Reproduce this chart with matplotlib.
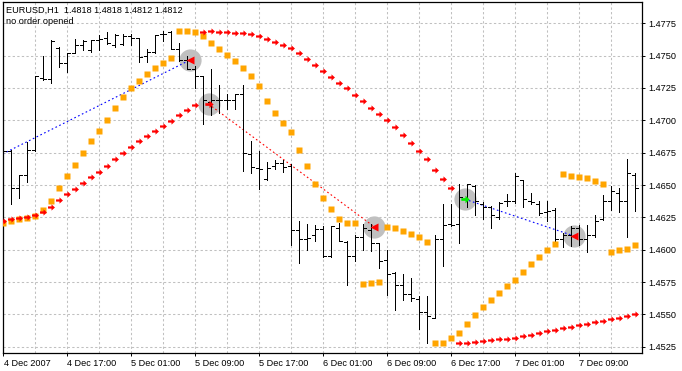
import matplotlib
matplotlib.use("Agg")
import matplotlib.pyplot as plt
from matplotlib.collections import LineCollection
from matplotlib.path import Path
import matplotlib.transforms as mtransforms

# ---------------- data (EURUSD H1, 4 Dec 2007 09:00 .. 7 Dec 2007 16:00) ----------------
tick_labels = ["4 Dec 2007", "4 Dec 17:00", "5 Dec 01:00", "5 Dec 09:00", "5 Dec 17:00",
               "6 Dec 01:00", "6 Dec 09:00", "6 Dec 17:00", "7 Dec 01:00", "7 Dec 09:00"]

opens = [1.4690, 1.4676, 1.4648, 1.4658, 1.4677, 1.4733, 1.4732, 1.4756, 1.4744, 1.4752,
         1.4758, 1.4754, 1.4762, 1.4764, 1.4758, 1.4759, 1.4765, 1.4764, 1.4750, 1.4753,
         1.4767, 1.4768, 1.4755, 1.4747, 1.4740, 1.4734, 1.4714, 1.4716, 1.4716, 1.4716,
         1.4720, 1.4674, 1.4663, 1.4655, 1.4665, 1.4667, 1.4665, 1.4615, 1.4608, 1.4611,
         1.4616, 1.4595, 1.4617, 1.4606, 1.4595, 1.4610, 1.4615, 1.4605, 1.4592, 1.4582,
         1.4573, 1.4566, 1.4562, 1.4552, 1.4547, 1.4608, 1.4620, 1.4620, 1.4639, 1.4649,
         1.4635, 1.4633, 1.4625, 1.4638, 1.4638, 1.4654, 1.4638, 1.4635, 1.4629, 1.4631,
         1.4608, 1.4611, 1.4617, 1.4608, 1.4611, 1.4624, 1.4638, 1.4644, 1.4638, 1.4658]
highs = [1.4694, 1.4677, 1.4658, 1.4683, 1.4734, 1.4750, 1.4762, 1.4757, 1.4752, 1.4763,
         1.4762, 1.4762, 1.4766, 1.4768, 1.4767, 1.4767, 1.4767, 1.4764, 1.4755, 1.4766,
         1.4769, 1.4769, 1.4760, 1.4750, 1.4742, 1.4734, 1.4740, 1.4727, 1.4720, 1.4720,
         1.4727, 1.4684, 1.4676, 1.4668, 1.4669, 1.4669, 1.4666, 1.4622, 1.4620, 1.4619,
         1.4618, 1.4618, 1.4621, 1.4607, 1.4611, 1.4620, 1.4620, 1.4605, 1.4600, 1.4583,
         1.4581, 1.4578, 1.4564, 1.4564, 1.4611, 1.4635, 1.4635, 1.4651, 1.4651, 1.4650,
         1.4637, 1.4634, 1.4637, 1.4643, 1.4659, 1.4654, 1.4644, 1.4638, 1.4638, 1.4632,
         1.4613, 1.4618, 1.4619, 1.4619, 1.4627, 1.4642, 1.4649, 1.4648, 1.4670, 1.4659]
lows = [1.4652, 1.4635, 1.4640, 1.4652, 1.4676, 1.4731, 1.4729, 1.4741, 1.4737, 1.4752,
        1.4754, 1.4753, 1.4754, 1.4759, 1.4757, 1.4758, 1.4758, 1.4745, 1.4745, 1.4752,
        1.4761, 1.4755, 1.4746, 1.4740, 1.4725, 1.4697, 1.4704, 1.4706, 1.4709, 1.4709,
        1.4661, 1.4659, 1.4647, 1.4654, 1.4662, 1.4660, 1.4604, 1.4590, 1.4600, 1.4607,
        1.4594, 1.4594, 1.4607, 1.4573, 1.4591, 1.4600, 1.4599, 1.4586, 1.4565, 1.4553,
        1.4561, 1.4560, 1.4539, 1.4528, 1.4547, 1.4587, 1.4618, 1.4605, 1.4633, 1.4627,
        1.4624, 1.4617, 1.4624, 1.4634, 1.4636, 1.4633, 1.4635, 1.4627, 1.4622, 1.4607,
        1.4602, 1.4603, 1.4604, 1.4598, 1.4610, 1.4623, 1.4631, 1.4629, 1.4610, 1.4630]
closes = [1.4676, 1.4648, 1.4658, 1.4677, 1.4734, 1.4732, 1.4761, 1.4744, 1.4752, 1.4758,
          1.4761, 1.4762, 1.4763, 1.4760, 1.4766, 1.4765, 1.4764, 1.4749, 1.4753, 1.4766,
          1.4767, 1.4755, 1.4747, 1.4740, 1.4734, 1.4716, 1.4716, 1.4716, 1.4716, 1.4720,
          1.4675, 1.4664, 1.4662, 1.4663, 1.4667, 1.4664, 1.4615, 1.4608, 1.4609, 1.4616,
          1.4595, 1.4618, 1.4607, 1.4595, 1.4610, 1.4617, 1.4605, 1.4591, 1.4581, 1.4573,
          1.4566, 1.4563, 1.4552, 1.4549, 1.4608, 1.4619, 1.4619, 1.4641, 1.4651, 1.4638,
          1.4633, 1.4627, 1.4636, 1.4638, 1.4657, 1.4639, 1.4637, 1.4628, 1.4630, 1.4608,
          1.4611, 1.4617, 1.4608, 1.4611, 1.4622, 1.4638, 1.4645, 1.4638, 1.4659, 1.4648]

# fast parabolic SAR (orange squares)
sar_fast = [1.46209, 1.46225, 1.46237, 1.46245, 1.46261, 1.46307, 1.46377, 1.46475, 1.46570, 1.46655,
            1.46745, 1.46838, 1.46918, 1.47003, 1.47093, 1.47178, 1.47248, 1.47304, 1.47358, 1.47402,
            1.47441, 1.47479, 1.47691, 1.47691, 1.47680, 1.47652, 1.47595, 1.47549, 1.47505, 1.47459,
            1.47402, 1.47340, 1.47263, 1.47150, 1.47054, 1.46977, 1.46907, 1.46771, 1.46647, 1.46508,
            1.46397, 1.46312, 1.46235, 1.46204, 1.46204, 1.45732, 1.45740, 1.45748, 1.46178, 1.46170,
            1.46145, 1.46119, 1.46096, 1.46057, 1.45276, 1.45276, 1.45315, 1.45354, 1.45426, 1.45493,
            1.45555, 1.45611, 1.45663, 1.45719, 1.45766, 1.45825, 1.45887, 1.45941, 1.45998, 1.46042,
            1.46583, 1.46570, 1.46560, 1.46552, 1.46531, 1.46508, 1.45980, 1.45995, 1.46003, 1.46034]

# slow parabolic SAR (red arrows)
sar_slow = [1.46225, 1.46235, 1.46243, 1.46256, 1.46268, 1.46292, 1.46333, 1.46384, 1.46431, 1.46467,
            1.46513, 1.46560, 1.46598, 1.46647, 1.46699, 1.46745, 1.46794, 1.46838, 1.46879, 1.46915,
            1.46956, 1.46995, 1.47039, 1.47080, 1.47116, 1.47686, 1.47688, 1.47680, 1.47680, 1.47678,
            1.47673, 1.47665, 1.47652, 1.47626, 1.47603, 1.47580, 1.47557, 1.47518, 1.47472, 1.47428,
            1.47382, 1.47333, 1.47286, 1.47248, 1.47193, 1.47147, 1.47093, 1.47047, 1.47003, 1.46946,
            1.46884, 1.46822, 1.46761, 1.46699, 1.46614, 1.46544, 1.46475, 1.45276, 1.45276, 1.45284,
            1.45294, 1.45300, 1.45307, 1.45310, 1.45318, 1.45333, 1.45341, 1.45356, 1.45372, 1.45380,
            1.45393, 1.45403, 1.45418, 1.45426, 1.45439, 1.45449, 1.45465, 1.45473, 1.45488, 1.45503]

# trade events (bar index, price) : entry/exit markers
event_bar = [23.4, 25.7, 46.4, 57.75, 71.4]
event_price = [1.47467, 1.47126, 1.46178, 1.46390, 1.46106]
event_kind = ["close", "sell", "close", "buy", "close"]
# trade lines: (start bar, start price, end bar, end price, colour)
line_start_bar = [-0.05, 25.7, 57.75]
line_start_price = [1.4674, 1.47126, 1.46390]
line_end_bar = [23.4, 46.4, 71.4]
line_end_price = [1.47467, 1.46178, 1.46106]
line_color = ["#0000ff", "#ff0000", "#0000ff"]

header = "EURUSD,H1  1.4818 1.4818 1.4812 1.4812"
subheader = "no order opened"

# ---------------- drawing ----------------
W, H = 682, 371
fig = plt.figure(figsize=(W / 100, H / 100), dpi=100)
fig.patch.set_facecolor("white")
L, R, T, B = 2.7, 642.0, 1.7, 353.3
ax = fig.add_axes([L / W, 1 - B / H, (R - L) / W, (B - T) / H])
ax.set_facecolor("white")

n = len(opens)
ax.set_xlim(-0.04, 79.9)
ax.set_ylim(1.45199, 1.47917)

font = "Liberation Sans"
fs = 6.6

# grid
yt = [1.4525 + 0.0025 * k for k in range(11)]
grid_kw = dict(color="#c0c0c0", lw=0.75, dashes=(2.2, 2.2), zorder=0)
for y in yt:
    ax.axhline(y, **grid_kw)
for b in range(4, n, 4):
    ax.axvline(b, **grid_kw)

# trade circles (behind bars)
ax.plot(event_bar, event_price, "o", ms=16, color="#c0c0c0", mec="none", zorder=1)

# trade lines
for xs, ys, xe, ye, c in zip(line_start_bar, line_start_price, line_end_bar, line_end_price, line_color):
    ax.plot([xs, xe], [ys, ye], color=c, lw=0.8, dashes=(1.5, 2.3), zorder=1.5)

# OHLC bars
tw = 0.36
segs = []
for i in range(n):
    segs.append([(i, lows[i]), (i, highs[i])])
    segs.append([(i - tw, opens[i]), (i, opens[i])])
    segs.append([(i, closes[i]), (i + tw, closes[i])])
ax.add_collection(LineCollection(segs, colors="black", linewidths=0.68, antialiaseds=False, zorder=2))

# indicator markers
arrow = Path([(-1, -0.32), (0.0, -0.32), (0.0, -0.9), (1, 0), (0.0, 0.9), (0.0, 0.32),
              (-1, 0.32), (-1, -0.32)], [Path.MOVETO] + [Path.LINETO] * 6 + [Path.CLOSEPOLY])
xs = list(range(n))
ax.plot(xs, sar_fast, "s", ms=3.7, color="#ffa500", mec="none", zorder=3)
ax.plot(xs, sar_slow, ls="none", marker=arrow, ms=5.0, color="#ff0000", mec="none", zorder=3)

# event arrows
for b, p, k in zip(event_bar, event_price, event_kind):
    if k == "close":
        ax.plot([b], [p], marker="<", ms=5.5, color="#ff0000", mec="none", zorder=4)
    elif k == "sell":
        ax.plot([b], [p], marker=arrow, ms=6, color="#ff0000", mec="none", zorder=4)
    else:
        ax.plot([b], [p], marker=arrow, ms=6, color="#00ee00", mec="none", zorder=4)

# axes styling
for s in ax.spines.values():
    s.set_color("black")
    s.set_linewidth(0.9)
ax.yaxis.tick_right()
ax.set_yticks(yt)
ax.set_yticklabels([f"{v:.4f}" for v in yt], fontsize=fs, family=font)
ax.tick_params(axis="y", direction="out", length=2.5, width=0.7, pad=2, colors="black")
ax.set_xticks(list(range(0, n, 8)))
ax.set_xticklabels(tick_labels, fontsize=fs, family=font)
ax.tick_params(axis="x", direction="out", length=2.5, width=0.7, pad=1.5, colors="black")
offset = mtransforms.ScaledTranslation(0.5 / 100, 0, fig.dpi_scale_trans)
for lab in ax.get_xticklabels():
    lab.set_horizontalalignment("left")
    lab.set_transform(lab.get_transform() + offset)

fig.text(6.5 / W, 1 - 10 / H, header, fontsize=fs, family=font, va="center", ha="left")
fig.text(6.5 / W, 1 - 21 / H, subheader, fontsize=fs, family=font, va="center", ha="left")

fig.savefig("out.png", dpi=100, facecolor="white")
